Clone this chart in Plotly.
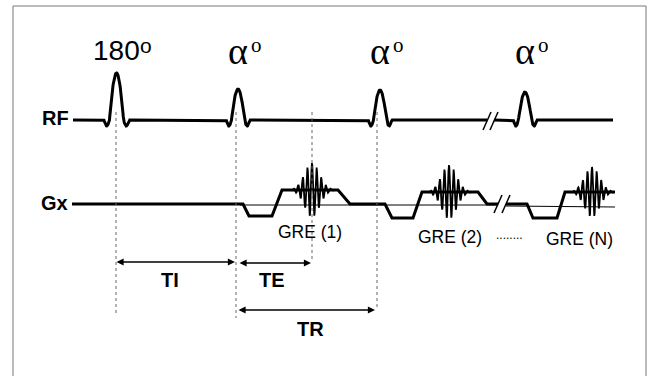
import numpy as np
import plotly.graph_objects as go

# ---------------- data (diagram units: x = time, y = drawing level) ----------------
rf_labels = ["180", "α", "α", "α"]
rf_times = [116.5, 238, 380, 525]
rf_amplitudes = [47, 31, 30, 28]
rf_halfwidths = [7.0, 6.5, 6.5, 6.5]
rf_lobe_depths = [6, 6, 6, 6]
rf_level = 120
rf_span = [73, 613]
rf_break = [487, 494]

gx_level = 204
gx_span = [72, 615]
gx_break = [498, 506]
gre_labels = ["GRE (1)", "GRE (2)", "GRE (N)"]
gre_ramp_times = [[243, 249, 272, 282, 338, 350],
                  [385, 392, 413, 422, 478, 487],
                  [527, 533, 557, 565, 615]]
gre_dephase_levels = [216, 218, 218]
gre_readout_levels = [190, 192, 192]
echo_times = [312, 449, 592]
echo_amplitudes = [27, 27, 25]
echo_period = 4.6
echo_width = 7.5

marker_times = [116, 236, 312, 377]
marker_ends = [313, 318, 262, 308]

interval_labels = ["TI", "TE", "TR"]
interval_starts = [115, 238, 237]
interval_ends = [235, 311, 375]
interval_levels = [262, 263, 310]

# ---------------- build figure ----------------
W, H = 654, 376
fig = go.Figure()

def add_line(x, y, width=3, color="black", dash="solid"):
    fig.add_trace(go.Scatter(x=x, y=y, mode="lines", hoverinfo="skip", showlegend=False,
                             line=dict(color=color, width=width, dash=dash),
                             connectgaps=False))

# RF waveform: arch-shaped main lobe with small negative side lobes
def rf_shape(u, depth_ratio):
    a = np.abs(u)
    main = np.where(a <= 1, np.cos(np.pi * np.clip(a, 0, 1) / 2) ** 0.9, 0.0)
    lobe = np.where((a > 1) & (a < 1.8), -depth_ratio * np.sin(np.pi * (a - 1) / 0.8), 0.0)
    return main + lobe

x_rf = np.arange(rf_span[0], rf_span[1] + 0.01, 0.25)
y_rf = np.full_like(x_rf, float(rf_level))
for t, a, hw, d in zip(rf_times, rf_amplitudes, rf_halfwidths, rf_lobe_depths):
    y_rf = y_rf - a * rf_shape((x_rf - t) / hw, d / a)
y_rf = y_rf.astype(object)
y_rf[(x_rf > rf_break[0]) & (x_rf < rf_break[1])] = None
add_line(x_rf, y_rf, width=3)

# break marks
for brk, lvl in ((rf_break, rf_level + 1), (gx_break, gx_level)):
    for bx in brk:
        add_line([bx - 4, bx + 4], [lvl + 9, lvl - 9], width=1.5)

# Gx thin reference line
add_line([240, gx_break[0], None, gx_break[1], gx_span[1]],
         [gx_level + 1, gx_level + 1, None, gx_level + 2, gx_level + 3], width=1)

# Gx thick waveform
gx_x = [gx_span[0]]
gx_y = [gx_level]
for i, (times, dl, rl) in enumerate(zip(gre_ramp_times, gre_dephase_levels, gre_readout_levels)):
    if i == 2:
        gx_x += [gx_break[0], None, gx_break[1]]
        gx_y += [gx_level, None, gx_level]
    levels = [gx_level, dl, dl, rl, rl, gx_level][:len(times)]
    gx_x += times
    gx_y += levels
    if i == 1:
        gx_x += [gx_break[0]]
        gx_y += [gx_level]
add_line(gx_x, gx_y, width=3)

# echoes
for t, a, rl in zip(echo_times, echo_amplitudes, gre_readout_levels):
    dx = np.arange(-22, 22.01, 0.1)
    env = np.exp(-0.5 * (dx / echo_width) ** 2)
    ye = rl - a * env * np.cos(2 * np.pi * dx / echo_period)
    add_line(t + dx, ye, width=1.8)

# dotted timing markers
for t, e in zip(marker_times, marker_ends):
    add_line([t, t], [112, e], width=1, color="#666666", dash="dot")

annotations = []
# interval arrows
for lab, s, e, lvl in zip(interval_labels, interval_starts, interval_ends, interval_levels):
    annotations.append(dict(x=e, y=lvl, ax=s, ay=lvl, xref="x", yref="y", axref="x", ayref="y",
                            text="", showarrow=True, arrowhead=2, startarrowhead=2,
                            arrowside="end+start", arrowsize=1.1, arrowwidth=1.3,
                            arrowcolor="black", standoff=0, startstandoff=0))

def label(x, y, text, size, family="Liberation Sans", bold=False):
    annotations.append(dict(x=x, y=y, xref="x", yref="y", showarrow=False,
                            text=f"<b>{text}</b>" if bold else text,
                            font=dict(family=family, size=size, color="black"),
                            xanchor="center", yanchor="middle"))

label(55, 118, "RF", 20, bold=True)
label(54, 203, "Gx", 20, bold=True)
label(170, 280, interval_labels[0], 20, bold=True)
label(272, 280, interval_labels[1], 20, bold=True)
label(310, 329, interval_labels[2], 20, bold=True)

# pulse labels
label(116, 50, rf_labels[0], 28)
label(146, 45, "o", 21)
for t, lab in zip(rf_times[1:], rf_labels[1:]):
    label(t, 51, lab, 38, family="Liberation Serif")
    label(t + 18, 45, "o", 21, family="Liberation Serif")

# GRE labels
label(310, 232, gre_labels[0], 17.5)
label(450, 237, gre_labels[1], 17.5)
label(509, 235, "........", 12)
label(579, 239, gre_labels[2], 17.5)

fig.update_layout(
    width=W, height=H, margin=dict(l=0, r=0, t=0, b=0),
    paper_bgcolor="white", plot_bgcolor="white",
    xaxis=dict(range=[0, W], visible=False, fixedrange=True),
    yaxis=dict(range=[H, 0], visible=False, fixedrange=True),
    annotations=annotations,
    shapes=[dict(type="rect", xref="x", yref="y", x0=13, y0=6, x1=646, y1=H + 5,
                 line=dict(color="#777777", width=1))],
)

fig.write_html("out.html", config={"displayModeBar": False},
               post_script="document.body.style.margin='0';document.body.style.overflow='hidden';")
